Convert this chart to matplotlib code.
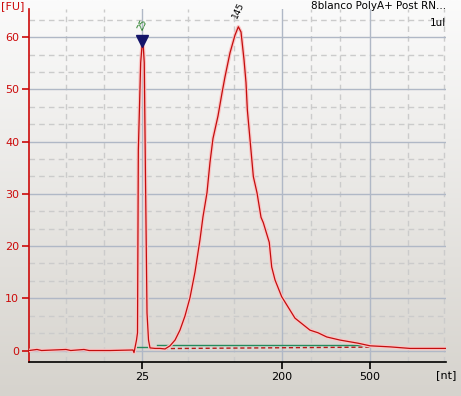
import numpy as np
import matplotlib
matplotlib.use("Agg")
from matplotlib import pyplot as plt

# electropherogram trace: migration time [s] vs fluorescence [FU]
time = [20.0, 20.96, 21.5, 24.44, 25.0, 26.59, 27.2, 29.71, 32.47, 32.59, 32.89, 33.01,
        33.11, 33.39, 33.55, 33.70, 33.82, 33.97, 34.15, 34.33, 34.51, 35.11, 35.71,
        36.31, 36.91, 37.51, 38.10, 38.70, 39.30, 39.90, 40.50, 40.86, 41.34, 41.70,
        42.06, 42.66, 43.14, 43.50, 44.10, 44.70, 45.10, 45.42, 45.78, 46.02, 46.18,
        46.50, 46.90, 47.34, 47.82, 48.09, 48.81, 49.10, 49.50, 50.30, 51.89, 53.69,
        54.65, 55.69, 57.29, 59.45, 60.89, 63.28, 65.68, 68.08, 70.0]
fu = [0.0, 0.2, 0.0, 0.2, 0.0, 0.2, 0.0, 0.0, 0.1, -0.4, 2.0, 3.4,
      38.4, 55.1, 58.3, 58.3, 55.1, 32.7, 7.2, 2.0, 0.5, 0.4, 0.4,
      0.3, 0.9, 2.0, 3.9, 6.6, 10.1, 15.0, 21.2, 25.6, 30.2, 36.0,
      40.6, 44.9, 49.3, 52.4, 57.0, 60.4, 62.0, 61.0, 55.7, 51.3, 46.1,
      40.4, 33.3, 30.2, 25.5, 24.5, 20.7, 16.0, 13.5, 10.3, 6.2, 3.9,
      3.4, 2.6, 2.0, 1.4, 0.9, 0.7, 0.4, 0.4, 0.4]

# baseline (dashed) and integration lines (green)
base_t = [34.51, 60.89]
base_fu = [0.35, 0.65]
int1_t = [32.95, 34.63]
int1_fu = [0.7, 0.7]
int2_t = [35.35, 60.65]
int2_fu = [1.05, 1.05]

# peak markers
marker_t = 33.55
marker_fu = 59.3
peak_labels = ["25", "145"]
peak_t = [33.55, 45.10]
peak_fu = [61.0, 63.4]

# axis ticks
xmajor = [33.55, 50.34, 60.89]
xlabels = ["25", "200", "500"]
xminor = [24.44, 28.99, 39.06, 44.58, 53.81, 57.29, 65.44, 69.76]
ymajor = [0, 10, 20, 30, 40, 50, 60]
yminor = [10 / 3 * i for i in range(20) if i % 3 != 0]

fig = plt.figure(figsize=(4.61, 3.96), dpi=100)

# background gradient over the whole figure
bg = fig.add_axes([0, 0, 1, 1], zorder=-10)
grad = np.linspace(0, 1, 256).reshape(-1, 1)
cmap = matplotlib.colors.LinearSegmentedColormap.from_list("bg", ["#fbfbfb", "#d6d3cd"])
bg.imshow(grad, aspect="auto", cmap=cmap, extent=[0, 1, 0, 1], origin="upper")
bg.axis("off")

ax = fig.add_axes([29 / 461, 34 / 396, 417 / 461, 353 / 396])
ax.patch.set_alpha(0)
ax.set_xlim(20, 70)
ax.set_ylim(-2.2, 65.4)

for x in xminor:
    ax.axvline(x, color="#cbcbcb", lw=1, ls=(0, (4, 3)), zorder=1)
for y in yminor:
    ax.axhline(y, color="#cbcbcb", lw=1, ls=(0, (4, 3)), zorder=1)
for x in xmajor:
    ax.axvline(x, color="#b0b8c6", lw=1, zorder=1)
for y in ymajor:
    ax.axhline(y, color="#b0b8c6", lw=1, zorder=1)

ax.plot(base_t, base_fu, color="#b81818", lw=1, ls=(0, (3, 2)), zorder=3)
ax.plot(int1_t, int1_fu, color="#238a5c", lw=1, zorder=3)
ax.plot(int2_t, int2_fu, color="#238a5c", lw=1, zorder=3)

# trace with a soft pink halo
ax.plot(time, fu, color="#f9c6c6", lw=2.6, zorder=4, solid_joinstyle="round")
ax.plot(time, fu, color="#c40d0d", lw=0.9, zorder=5, solid_joinstyle="round")

ax.plot([marker_t], [marker_fu], marker="v", color="#14146a", ms=8, zorder=6)
ax.text(peak_t[0], peak_fu[0], peak_labels[0], color="#1f7a1f", fontsize=6.5,
        rotation=65, ha="center", va="bottom", zorder=7)
ax.text(peak_t[1], peak_fu[1], peak_labels[1], color="black", fontsize=6.5,
        rotation=65, ha="center", va="bottom", zorder=7)

for s in ["top", "right"]:
    ax.spines[s].set_visible(False)
ax.spines["left"].set_color("#cc0a0a")
ax.spines["left"].set_linewidth(1.2)
ax.spines["bottom"].set_color("black")
ax.spines["bottom"].set_linewidth(1.2)

ax.set_xticks(xmajor)
ax.set_xticklabels(xlabels)
ax.set_yticks(ymajor)
ax.set_yticklabels([str(v) for v in ymajor])
ax.tick_params(axis="y", colors="#cc0a0a", labelcolor="#cc0a0a", length=5, width=1.2,
               labelsize=8, pad=2)
ax.tick_params(axis="x", colors="black", length=5, width=1.2, labelsize=8, pad=2)

fig.text(1 / 461, 1 - 1 / 396, "[FU]", color="#cc0a0a", fontsize=8, ha="left", va="top")
fig.text(456 / 461, 1 - 370 / 396, "[nt]", color="black", fontsize=8, ha="right", va="top")
fig.text(446 / 461, 1 - 1 / 396, "8blanco PolyA+ Post RN...", color="black", fontsize=7.5,
         ha="right", va="top")
fig.text(446 / 461, 1 - 18 / 396, "1ul", color="black", fontsize=7.5, ha="right", va="top")

fig.savefig("out.png", dpi=100)
